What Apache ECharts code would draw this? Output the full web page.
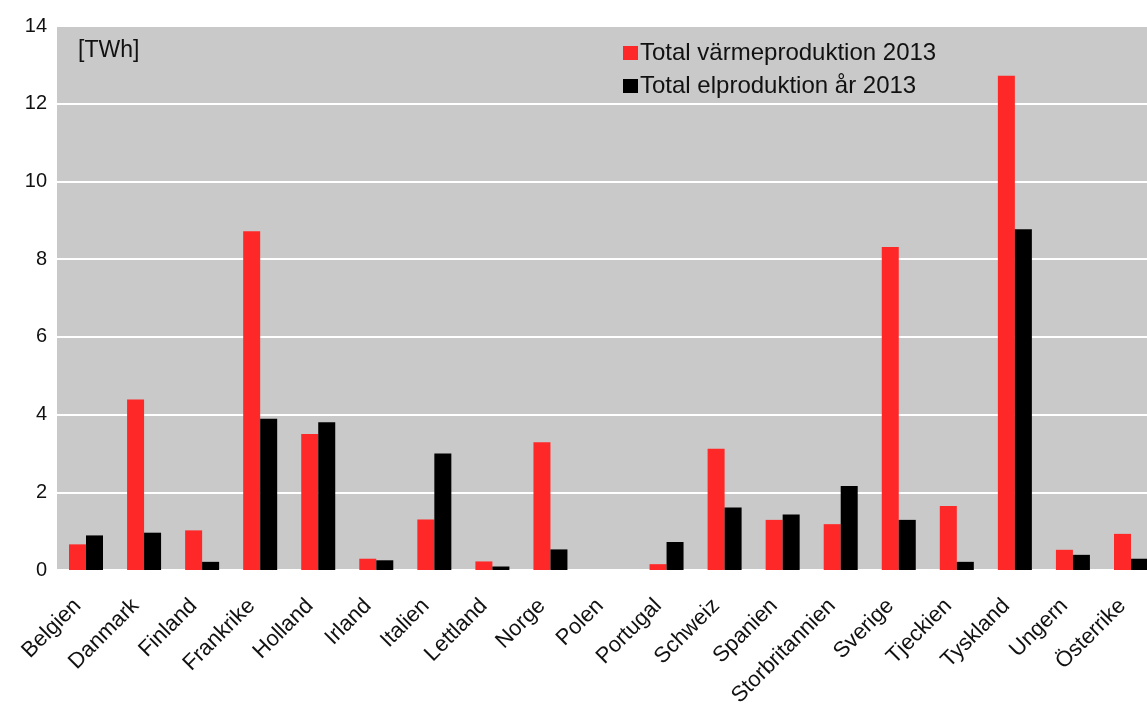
<!DOCTYPE html>
<html>
<head>
<meta charset="utf-8">
<script src="https://cdn.jsdelivr.net/npm/echarts@6/dist/echarts.min.js"></script>
<style>
html,body{margin:0;padding:0;background:#fff;overflow:hidden;width:1147px;height:711px;}
#c{width:1160px;height:711px;}
</style>
</head>
<body>
<div id="c"></div>
<script>
const categories = ["Belgien","Danmark","Finland","Frankrike","Holland","Irland","Italien","Lettland","Norge","Polen","Portugal","Schweiz","Spanien","Storbritannien","Sverige","Tjeckien","Tyskland","Ungern","Österrike"];
const heatValues = [0.66,4.39,1.02,8.72,3.50,0.29,1.30,0.22,3.29,0,0.15,3.12,1.29,1.18,8.31,1.65,12.72,0.52,0.93];
const elValues   = [0.89,0.96,0.21,3.89,3.80,0.25,3.00,0.09,0.53,0,0.72,1.61,1.43,2.16,1.29,0.21,8.77,0.39,0.29];
const yTicks = [0,2,4,6,8,10,12,14];
const seriesNames = ["Total värmeproduktion 2013","Total elproduktion år 2013"];
const unitLabel = "[TWh]";

const FONT = "Liberation Sans, Arial, sans-serif";
const chart = echarts.init(document.getElementById('c'), null, {renderer:'canvas'});
chart.setOption({
  animation:false,
  backgroundColor:'#ffffff',
  textStyle:{fontFamily:FONT},
  grid:{left:57, top:26, right:0, bottom:141, show:true, backgroundColor:'#c9c9c9', borderWidth:0, containLabel:false},
  legend:{
    orient:'vertical', left:618, top:36, itemWidth:15, itemHeight:14, itemGap:9,
    icon:'rect',
    textStyle:{fontSize:24, color:'#111', fontFamily:FONT, padding:[0,0,0,-3]},
    data:seriesNames
  },
  xAxis:{
    type:'category', data:categories,
    axisLine:{show:false}, axisTick:{show:false},
    axisLabel:{rotate:45, fontSize:22, color:'#111', margin:24, interval:0, fontFamily:FONT, padding:[0,12,0,0]}
  },
  yAxis:{
    type:'value', min:yTicks[0], max:yTicks[yTicks.length-1], interval:2,
    axisLine:{show:false}, axisTick:{show:false},
    axisLabel:{fontSize:20, color:'#111', margin:10, fontFamily:FONT},
    splitLine:{show:true, lineStyle:{color:'#ffffff', width:2}}
  },
  graphic:[{type:'text', left:78, top:39, style:{text:unitLabel, fontSize:23, fill:'#111', fontFamily:FONT}}],
  series:[
    {name:seriesNames[0], type:'bar', data:heatValues, barWidth:17, barGap:'0%', itemStyle:{color:'#ff2828'}},
    {name:seriesNames[1], type:'bar', data:elValues, barWidth:17, barGap:'0%', itemStyle:{color:'#000000'}}
  ]
});
</script>
</body>
</html>
